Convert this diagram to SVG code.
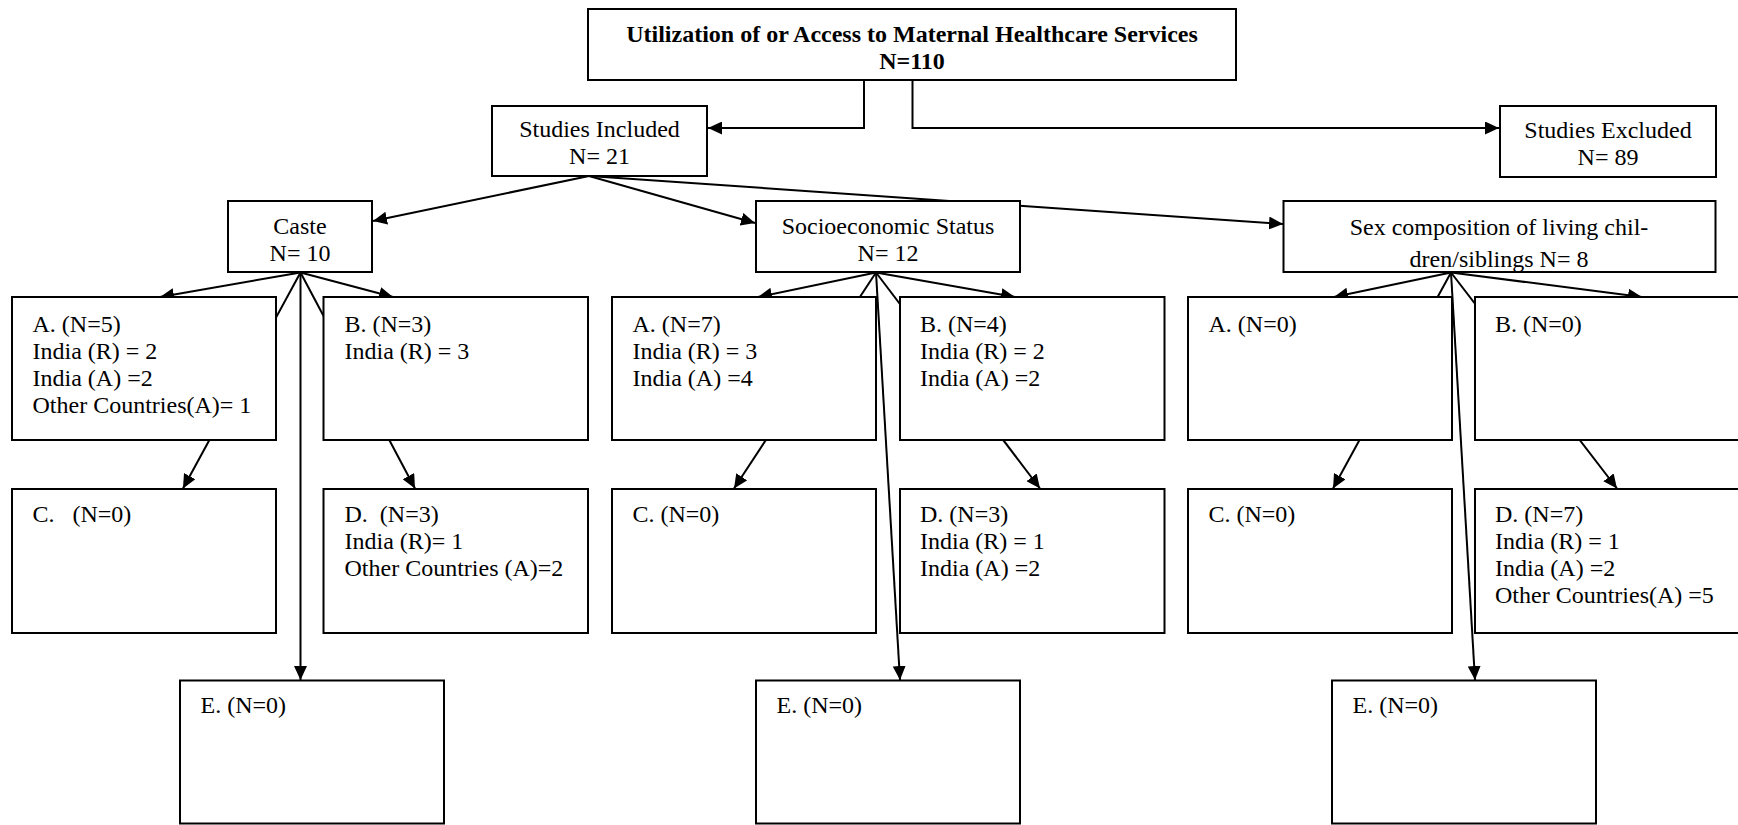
<svg xmlns="http://www.w3.org/2000/svg" width="1738" height="825" viewBox="0 0 1738 825">
<style>
.box{fill:#fff;stroke:#000;stroke-width:2}
.con{fill:none;stroke:#000;stroke-width:2;marker-end:url(#arr)}
text{font-family:"Liberation Serif","Times New Roman",serif;font-size:24px;fill:#000;white-space:pre}
.c{text-anchor:middle}
.b{font-weight:bold;font-size:24px}
</style>
<defs>
<marker id="arr" markerUnits="userSpaceOnUse" markerWidth="14" markerHeight="13" refX="14" refY="6.5" orient="auto">
<path d="M0,0 L14,6.5 L0,13 z" fill="#000"/>
</marker>
<clipPath id="sexclip"><rect x="1283.5" y="201" width="432" height="71"/></clipPath>
</defs>
<rect width="1738" height="825" fill="#fff"/>
<g id="connectors">
<path class="con" d="M864,80 V128 H708"/>
<path class="con" d="M912.5,80 V128 H1499"/>
<path class="con" d="M589,176 L373,221"/>
<path class="con" d="M589,176 L755,223"/>
<path class="con" d="M589,176 L1283,224"/>
<path class="con" d="M300.5,272.5 L160,297"/>
<path class="con" d="M300.5,272.5 L393,297"/>
<path class="con" d="M300.5,272.5 L183,488.5"/>
<path class="con" d="M300.5,272.5 L415,488.5"/>
<path class="con" d="M300.5,272.5 L300.5,680"/>
<path class="con" d="M876,272.5 L758,297"/>
<path class="con" d="M876,272.5 L1015,297"/>
<path class="con" d="M876,272.5 L734,488.5"/>
<path class="con" d="M876,272.5 L1040,488.5"/>
<path class="con" d="M876,272.5 L900,680"/>
<path class="con" d="M1451,272.5 L1334,297"/>
<path class="con" d="M1451,272.5 L1642,297"/>
<path class="con" d="M1451,272.5 L1333,488.5"/>
<path class="con" d="M1451,272.5 L1617,488.5"/>
<path class="con" d="M1451,272.5 L1475,680"/>
</g>
<g id="top"><rect class="box" x="588" y="9" width="648" height="71"/>
<text class="c b" x="912" y="41.5">Utilization of or Access to Maternal Healthcare Services</text>
<text class="c b" x="912" y="69">N=110</text></g>
<g id="included"><rect class="box" x="492" y="106" width="215" height="70"/>
<text class="c" x="599.5" y="137">Studies Included</text>
<text class="c" x="599.5" y="163.5">N= 21</text></g>
<g id="excluded"><rect class="box" x="1500" y="106" width="216" height="71"/>
<text class="c" x="1608" y="137.5">Studies Excluded</text>
<text class="c" x="1608" y="165">N= 89</text></g>
<g id="caste"><rect class="box" x="228" y="201" width="144" height="71"/>
<text class="c" x="300" y="233.5">Caste</text>
<text class="c" x="300" y="261">N= 10</text></g>
<g id="ses"><rect class="box" x="756" y="201" width="264" height="71"/>
<text class="c" x="888" y="233.5">Socioeconomic Status</text>
<text class="c" x="888" y="261">N= 12</text></g>
<g id="sex"><rect class="box" x="1283.5" y="201" width="432" height="71"/>
<g clip-path="url(#sexclip)">
<text class="c" x="1499" y="235">Sex composition of living chil-</text>
<text class="c" x="1499" y="266.5">dren/siblings N= 8</text></g></g>

<g id="caste-a"><rect class="box" x="12" y="297" width="264" height="143"/>
<text x="32.5" y="331.5">A. (N=5)</text>
<text x="32.5" y="358.5">India (R) = 2</text>
<text x="32.5" y="385.5">India (A) =2</text>
<text x="32.5" y="412.5">Other Countries(A)= 1</text></g>
<g id="caste-b"><rect class="box" x="323.5" y="297" width="264.5" height="143"/>
<text x="344.5" y="331.5">B. (N=3)</text>
<text x="344.5" y="358.5">India (R) = 3</text></g>
<g id="caste-c"><rect class="box" x="12" y="489" width="264" height="144"/>
<text x="32.5" y="521.5">C.   (N=0)</text></g>
<g id="caste-d"><rect class="box" x="323.5" y="489" width="264.5" height="144"/>
<text x="344.5" y="521.5">D.  (N=3)</text>
<text x="344.5" y="548.5">India (R)= 1</text>
<text x="344.5" y="575.5">Other Countries (A)=2</text></g>
<g id="caste-e"><rect class="box" x="180" y="680.5" width="264" height="143"/>
<text x="200.5" y="713">E. (N=0)</text></g>

<g id="ses-a"><rect class="box" x="612" y="297" width="264" height="143"/>
<text x="632.5" y="331.5">A. (N=7)</text>
<text x="632.5" y="358.5">India (R) = 3</text>
<text x="632.5" y="385.5">India (A) =4</text></g>
<g id="ses-b"><rect class="box" x="900" y="297" width="264.5" height="143"/>
<text x="920" y="331.5">B. (N=4)</text>
<text x="920" y="358.5">India (R) = 2</text>
<text x="920" y="385.5">India (A) =2</text></g>
<g id="ses-c"><rect class="box" x="612" y="489" width="264" height="144"/>
<text x="632.5" y="521.5">C. (N=0)</text></g>
<g id="ses-d"><rect class="box" x="900" y="489" width="264.5" height="144"/>
<text x="920" y="521.5">D. (N=3)</text>
<text x="920" y="548.5">India (R) = 1</text>
<text x="920" y="575.5">India (A) =2</text></g>
<g id="ses-e"><rect class="box" x="756" y="680.5" width="264" height="143"/>
<text x="776.5" y="713">E. (N=0)</text></g>

<g id="sex-a"><rect class="box" x="1188" y="297" width="264" height="143"/>
<text x="1208.5" y="331.5">A. (N=0)</text></g>
<g id="sex-b"><rect class="box" x="1475" y="297" width="264" height="143"/>
<text x="1495" y="331.5">B. (N=0)</text></g>
<g id="sex-c"><rect class="box" x="1188" y="489" width="264" height="144"/>
<text x="1208.5" y="521.5">C. (N=0)</text></g>
<g id="sex-d"><rect class="box" x="1475" y="489" width="264" height="144"/>
<text x="1495" y="521.5">D. (N=7)</text>
<text x="1495" y="548.5">India (R) = 1</text>
<text x="1495" y="575.5">India (A) =2</text>
<text x="1495" y="602.5">Other Countries(A) =5</text></g>
<g id="sex-e"><rect class="box" x="1332" y="680.5" width="264" height="143"/>
<text x="1352.5" y="713">E. (N=0)</text></g>
</svg>
